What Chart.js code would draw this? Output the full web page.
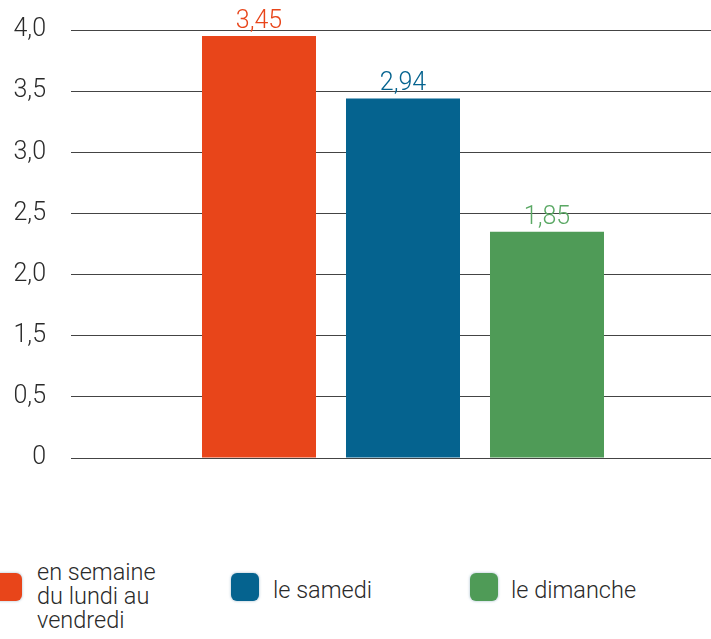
<!DOCTYPE html>
<html>
<head>
<meta charset="utf-8">
<script src="https://cdn.jsdelivr.net/npm/chart.js@4/dist/chart.umd.min.js"></script>
<style>
  html, body { margin: 0; padding: 0; background: #fff; overflow: hidden; width: 711px; height: 639px; }
  #wrap { position: absolute; left: 0; top: 0; width: 735px; height: 474px; }
  .lg-box { position: absolute; width: 28px; height: 28px; border-radius: 6px; box-shadow: 0 0 2px 1px rgba(200,215,225,0.8); }
  .lg-text { position: absolute; font-family: Roboto, "Noto Sans", sans-serif; font-weight: 300; font-size: 23.5px; line-height: 24px; color: #2a2a2a; white-space: pre-line; }
</style>
</head>
<body>
<div id="wrap"><canvas id="c"></canvas></div>
<div id="legend"></div>
<script>
const categories = ["en semaine\ndu lundi au\nvendredi", "le samedi", "le dimanche"];
const values = [3.45, 2.94, 1.85];
const colors = ["#E8451A", "#05638F", "#4F9B57"];
const labelColors = ["#E8451A", "#05638F", "#5AA864"];
const tickLabels = ["0", "0,5", "1,5", "2,0", "2,5", "3,0", "3,5", "4,0"];

const fmt = v => v.toFixed(2).replace(".", ",");

const valueLabels = {
  id: "valueLabels",
  afterDatasetsDraw(chart) {
    const ctx = chart.ctx;
    ctx.save();
    ctx.font = "300 25px Roboto, 'Noto Sans', sans-serif";
    ctx.textAlign = "center";
    ctx.textBaseline = "alphabetic";
    chart.data.datasets.forEach((ds, i) => {
      const el = chart.getDatasetMeta(i).data[0];
      ctx.fillStyle = labelColors[i];
      ctx.fillText(fmt(ds.data[0]), el.x, el.y - 8);
    });
    ctx.restore();
  }
};

new Chart(document.getElementById("c"), {
  type: "bar",
  data: {
    labels: [""],
    datasets: categories.map((c, i) => ({
      label: c,
      data: [values[i]],
      backgroundColor: colors[i],
      borderWidth: 0
    }))
  },
  options: {
    responsive: true,
    maintainAspectRatio: false,
    animation: false,
    layout: { padding: { top: 30, bottom: 16, left: 0, right: 0 } },
    plugins: { legend: { display: false }, tooltip: { enabled: false } },
    datasets: { bar: { categoryPercentage: 0.6506, barPercentage: 0.7917 } },
    scales: {
      x: { display: false },
      y: {
        min: 0,
        max: 3.5,
        afterFit(scale) { scale.width = 71; },
        border: { display: false },
        grid: { color: "#444", lineWidth: 1, drawTicks: true, tickLength: 25, tickColor: "rgba(0,0,0,0)" },
        ticks: {
          stepSize: 0.5,
          padding: 0,
          color: "#2a2a2a",
          font: { family: "Roboto, 'Noto Sans', sans-serif", size: 25, weight: 300 },
          callback: (v, idx) => tickLabels[idx]
        }
      }
    }
  },
  plugins: [valueLabels]
});

const legendPos = [
  { box: -6, text: 37, textTop: 560 },
  { box: 231, text: 273, textTop: 578 },
  { box: 470, text: 511, textTop: 578 }
];
const lg = document.getElementById("legend");
categories.forEach((c, i) => {
  const b = document.createElement("div");
  b.className = "lg-box";
  b.style.left = legendPos[i].box + "px";
  b.style.top = "573px";
  b.style.background = colors[i];
  lg.appendChild(b);
  const t = document.createElement("div");
  t.className = "lg-text";
  t.style.left = legendPos[i].text + "px";
  t.style.top = legendPos[i].textTop + "px";
  t.textContent = c;
  lg.appendChild(t);
});
</script>
</body>
</html>
